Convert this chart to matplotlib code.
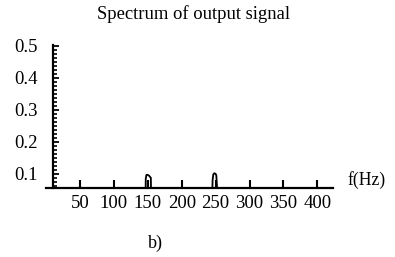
import numpy as np
from matplotlib import pyplot as plt
from matplotlib.ticker import MultipleLocator

# spectrum samples (Hz, amplitude)
freq = [0, 146.5, 147, 148, 150, 152, 153.5, 154.5, 155,
        244.5, 245.5, 246.5, 248, 250, 251, 252, 253, 254, 423]
amp = [0.0, 0.0, 0.085, 0.097, 0.097, 0.094, 0.09, 0.088, 0.0,
       0.0, 0.08, 0.098, 0.102, 0.1, 0.095, 0.06, 0.045, 0.0, 0.0]

x_ticks = [50, 100, 150, 200, 250, 300, 350, 400]
y_ticks = [0.1, 0.2, 0.3, 0.4, 0.5]


def main():
    plt.rcParams['font.family'] = ['Liberation Serif', 'DejaVu Serif']
    fig = plt.figure(figsize=(3.95, 2.57), dpi=100)
    ax = fig.add_axes([0.1165, 0.2685, 0.7266, 0.5564])

    ax.plot(np.array(freq), np.array(amp), color='black', lw=1.3, clip_on=True)

    ax.set_xlim(0, 423)
    ax.set_ylim(0.056, 0.502)

    ax.spines['right'].set_visible(False)
    ax.spines['top'].set_visible(False)
    ax.spines['left'].set_position(('data', 10))
    ax.spines['left'].set_linewidth(1.6)
    ax.spines['bottom'].set_linewidth(1.6)

    ax.set_xticks(x_ticks)
    ax.set_xticklabels([str(v) for v in x_ticks])
    ax.set_yticks(y_ticks)
    ax.set_yticklabels(['%.1f' % v for v in y_ticks])
    ax.yaxis.set_minor_locator(MultipleLocator(0.0125))

    ax.tick_params(axis='x', direction='in', length=6, width=1.5,
                   labelsize=13.5, pad=5)
    ax.tick_params(axis='y', which='major', direction='in', length=4,
                   width=1.3, labelsize=13.5, pad=11)
    ax.tick_params(axis='y', which='minor', direction='in', length=3,
                   width=1.2)

    fig.text(0.49, 0.945, 'Spectrum of output signal', fontsize=13.4,
             ha='center', va='center')
    fig.text(0.881, 0.30, 'f(Hz)', fontsize=12.7, ha='left', va='center')
    fig.text(0.393, 0.054, 'b)', fontsize=13, ha='center', va='center')

    fig.savefig("out.png", dpi=100)


if __name__ == "__main__":
    main()
